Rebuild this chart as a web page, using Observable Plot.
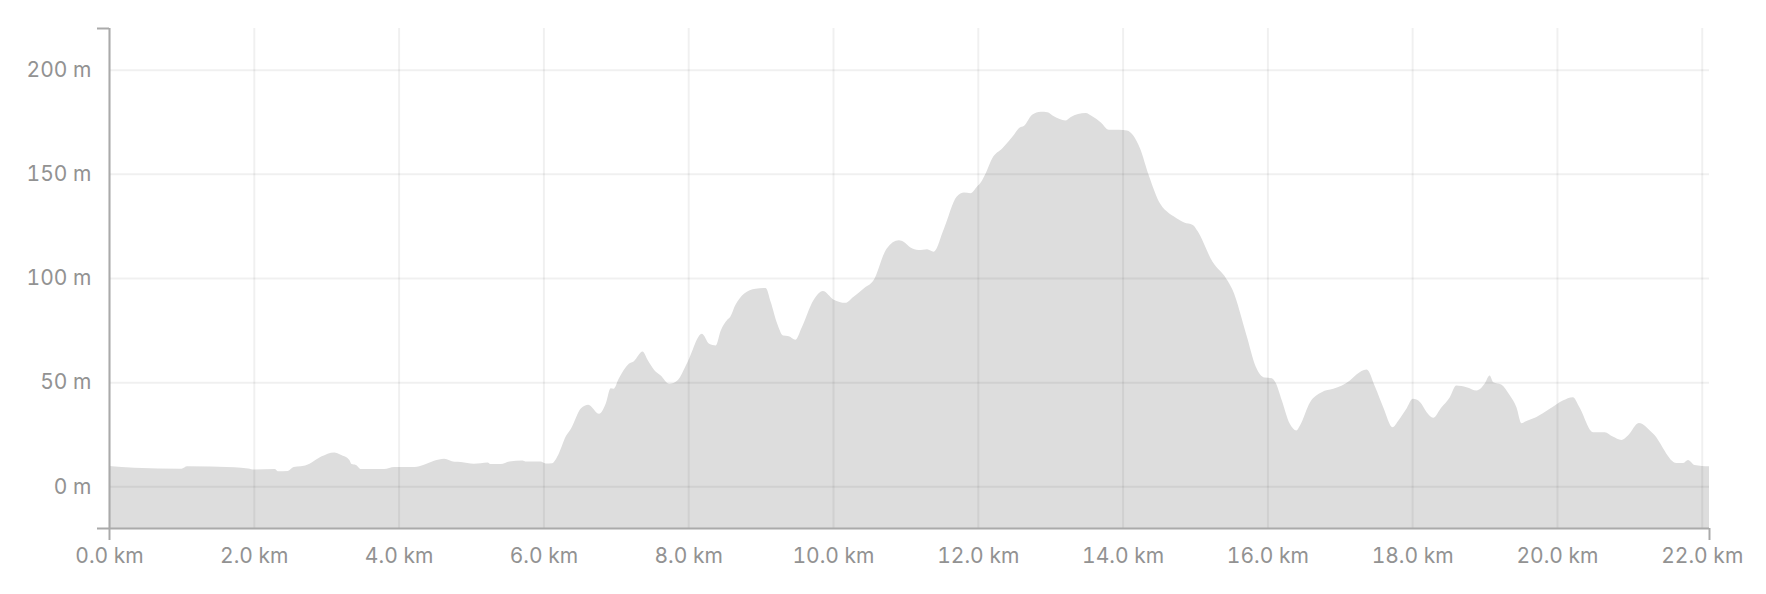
<!DOCTYPE html>
<html>
<head>
<meta charset="utf-8">
<script src="https://cdn.jsdelivr.net/npm/d3@7"></script>
<script src="https://cdn.jsdelivr.net/npm/@observablehq/plot@0.6"></script>
<style>
  html, body { margin: 0; padding: 0; background: #fff; }
  #chart { width: 1766px; height: 594px; }
</style>
</head>
<body>
<div id="chart"></div>
<script>
// Distance along the route (km)
const distanceKm = [
  0.00, 0.35, 1.00, 1.08, 1.73, 1.92, 2.01, 2.29, 2.33, 2.47,
  2.55, 2.65, 2.77, 2.93, 3.11, 3.20, 3.32, 3.35, 3.41, 3.48,
  3.80, 3.94, 4.22, 4.35, 4.49, 4.63, 4.77, 4.86, 5.04, 5.23,
  5.27, 5.41, 5.53, 5.71, 5.76, 5.96, 6.03, 6.12, 6.20, 6.31,
  6.38, 6.52, 6.62, 6.77, 6.86, 6.93, 6.97, 7.04, 7.18, 7.25,
  7.37, 7.44, 7.53, 7.62, 7.74, 7.85, 7.99, 8.19, 8.29, 8.38,
  8.45, 8.54, 8.58, 8.65, 8.77, 8.93, 9.07, 9.14, 9.23, 9.31,
  9.39, 9.48, 9.57, 9.73, 9.86, 10.01, 10.17, 10.28, 10.42, 10.56,
  10.74, 10.91, 10.98, 11.07, 11.18, 11.30, 11.39, 11.53, 11.71, 11.81,
  11.90, 11.99, 12.04, 12.11, 12.20, 12.34, 12.50, 12.57, 12.64, 12.75,
  12.87, 12.96, 13.05, 13.21, 13.28, 13.49, 13.58, 13.70, 13.81, 13.95,
  14.06, 14.15, 14.24, 14.36, 14.52, 14.64, 14.71, 14.85, 14.97, 15.04,
  15.24, 15.43, 15.52, 15.71, 15.84, 15.96, 16.06, 16.11, 16.20, 16.31,
  16.40, 16.45, 16.59, 16.75, 16.91, 17.03, 17.14, 17.23, 17.37, 17.49,
  17.60, 17.73, 17.81, 17.92, 18.01, 18.11, 18.20, 18.29, 18.40, 18.52,
  18.61, 18.75, 18.89, 19.00, 19.07, 19.12, 19.23, 19.35, 19.44, 19.51,
  19.57, 19.71, 19.90, 20.08, 20.22, 20.31, 20.50, 20.66, 20.77, 20.89,
  20.98, 21.13, 21.33, 21.65, 21.74, 21.81, 21.90, 22.10
];

// Elevation (m)
const elevationM = [
  9.8, 8.9, 8.5, 9.6, 9.2, 8.6, 8.1, 8.3, 7.3, 7.4,
  9.3, 9.6, 10.9, 14.3, 16.3, 15.2, 12.7, 10.7, 10.3, 8.3,
  8.3, 9.3, 9.3, 10.4, 12.3, 13.3, 11.8, 11.7, 10.9, 11.5,
  10.7, 10.7, 11.9, 12.4, 11.9, 11.9, 11.0, 11.1, 14.8, 24.0,
  27.6, 37.5, 39.2, 34.8, 39.6, 47.1, 46.8, 51.6, 58.8, 60.1,
  64.7, 60.7, 55.9, 53.2, 49.2, 50.8, 59.6, 73.2, 68.4, 67.6,
  74.8, 80.0, 81.3, 86.9, 92.5, 94.9, 95.2, 88.5, 78.0, 72.4,
  72.1, 70.4, 76.4, 89.3, 93.8, 89.6, 88.1, 90.9, 94.9, 98.9,
  114.1, 118.1, 117.3, 114.6, 113.4, 113.8, 112.6, 123.4, 139.1, 141.0,
  140.7, 143.9, 145.8, 150.3, 157.5, 162.3, 168.8, 172.0, 173.1, 178.4,
  179.8, 179.6, 177.6, 175.6, 177.2, 179.2, 177.6, 174.7, 171.2, 171.2,
  170.8, 168.3, 162.3, 149.5, 135.6, 131.1, 129.5, 126.6, 125.5, 122.3,
  107.9, 99.8, 94.2, 72.6, 57.4, 52.2, 51.9, 50.0, 41.2, 30.0,
  26.8, 29.2, 40.4, 45.2, 46.8, 48.4, 50.8, 53.7, 56.1, 47.6,
  38.0, 28.4, 31.6, 37.2, 42.0, 40.4, 35.6, 32.9, 37.7, 42.8,
  48.4, 47.6, 46.0, 49.2, 53.2, 50.0, 48.9, 43.6, 38.0, 30.3,
  31.3, 33.2, 37.2, 41.2, 42.8, 38.0, 26.0, 26.0, 23.9, 22.3,
  24.4, 30.4, 25.2, 11.2, 11.2, 12.7, 10.3, 9.6
];

const xDomain = [0, 22.1];
const yDomain = [-20, 220];
const xTicks = [0, 2, 4, 6, 8, 10, 12, 14, 16, 18, 20, 22];
const yTicks = [0, 50, 100, 150, 200];

const profile = distanceKm.map((d, i) => ({km: d, m: elevationM[i]}));

const axisColor = "#aaaaaa";
const gridStyle = {stroke: "#000", strokeOpacity: 0.06, strokeWidth: 2};

const chart = Plot.plot({
  width: 1766,
  height: 594,
  marginLeft: 109,
  marginRight: 57,
  marginTop: 28,
  marginBottom: 66,
  style: {fontFamily: "Inter, 'Open Sans', sans-serif", fontSize: "21px", color: "#929292", background: "#fff", overflow: "visible"},
  x: {domain: xDomain, label: null},
  y: {domain: yDomain, label: null},
  marks: [
    Plot.areaY(profile, {x: "km", y1: () => yDomain[0], y2: "m", fill: "#dddddd", curve: "monotone-x"}),
    Plot.gridX(xTicks, gridStyle),
    Plot.gridY(yTicks, gridStyle),
    // y-axis domain line with outer tick
    Plot.ruleX([xDomain[0]], {stroke: axisColor, strokeWidth: 2}),
    Plot.ruleY([yDomain[1]], {x1: xDomain[0], x2: xDomain[0], insetLeft: -12, stroke: axisColor, strokeWidth: 2}),
    // x-axis domain line with outer ticks
    Plot.ruleY([yDomain[0]], {x1: xDomain[0], x2: xDomain[1], insetLeft: -12, stroke: axisColor, strokeWidth: 2}),
    Plot.ruleX([xDomain[0], xDomain[1]], {y1: yDomain[0], y2: yDomain[0], insetBottom: -12, stroke: axisColor, strokeWidth: 2}),
    Plot.axisX({ticks: xTicks, tickSize: 0, tickPadding: 20, label: null, tickFormat: (d) => d.toFixed(1) + " km", fill: "#929292"}),
    Plot.axisY({ticks: yTicks, tickSize: 0, tickPadding: 18, label: null, tickFormat: (d) => d + " m", fill: "#929292"})
  ]
});

document.getElementById("chart").appendChild(chart);
</script>
</body>
</html>
